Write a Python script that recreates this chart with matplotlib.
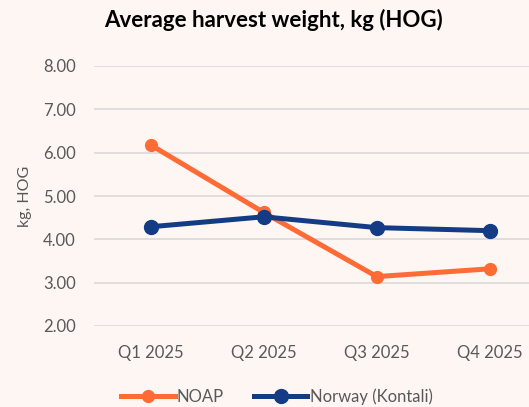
import matplotlib.pyplot as plt

# quarters and values
quarters = ["Q1 2025", "Q2 2025", "Q3 2025", "Q4 2025"]
noap = [6.18, 4.62, 3.14, 3.32]
norway = [4.29, 4.52, 4.27, 4.20]
yticks = [2, 3, 4, 5, 6, 7, 8]

bg = "#FEF6F3"
orange = "#FF6B35"
navy = "#143C84"
grey = "#595959"

plt.rcParams['font.family'] = ['Lato', 'DejaVu Sans']

fig = plt.figure(figsize=(5.29, 4.07), dpi=100, facecolor=bg)
ax = fig.add_axes([94 / 529, 81 / 407, 452.5 / 529, 260 / 407], facecolor=bg)

x = range(len(quarters))
ax.plot(x, noap, color=orange, lw=3.6, marker="o", ms=8.5, label="NOAP", zorder=3)
ax.plot(x, norway, color=navy, lw=3.6, marker="o", ms=10, label="Norway (Kontali)", zorder=4)

ax.set_xlim(-0.5, 3.5)
ax.set_ylim(2, 8)
ax.set_yticks(yticks)
ax.set_yticklabels([f"{v:.2f}" for v in yticks])
ax.set_xticks(list(x))
ax.set_xticklabels(quarters)
ax.grid(axis="y", color="#D9D9D9", lw=1.2)
ax.set_axisbelow(True)
for s in ax.spines.values():
    s.set_visible(False)
ax.tick_params(length=0, colors=grey, labelsize=12, pad=13)
ax.tick_params(axis="x", pad=14)

fig.text(25 / 529, 1 - 196 / 407, "kg, HOG", rotation=90, color=grey,
         fontsize=11.5, ha="center", va="center")
fig.text(273 / 529, 1 - 20 / 407, "Average harvest weight, kg (HOG)",
         fontsize=16, fontweight="bold", ha="center", va="center", color="black")

fig.legend(loc="center", bbox_to_anchor=(277 / 529, 1 - 397 / 407), ncol=2,
           frameon=False, fontsize=12, labelcolor=grey, handlelength=3.2,
           handletextpad=0.15, columnspacing=1.8)

fig.savefig("out.png", dpi=100, facecolor=bg)
